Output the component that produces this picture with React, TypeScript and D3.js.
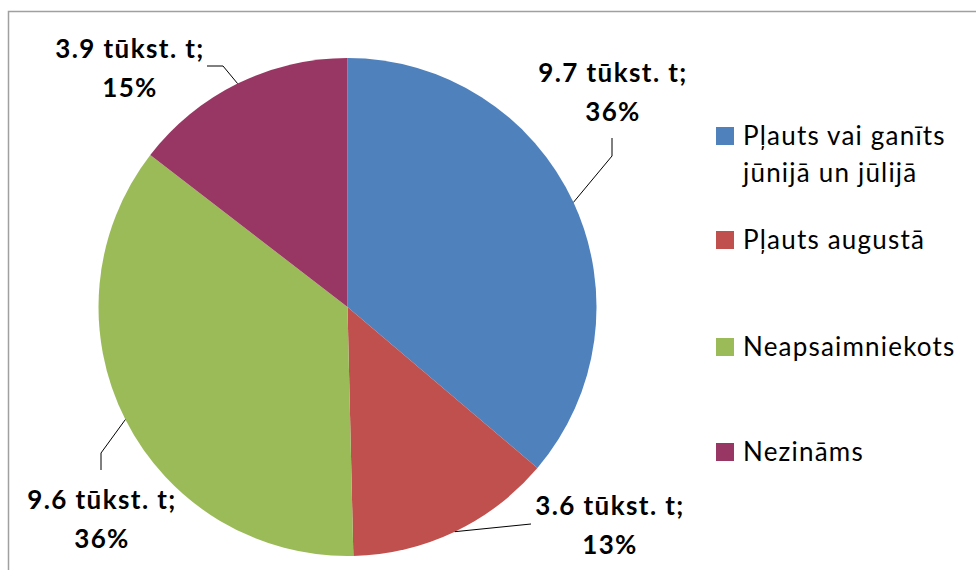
import React from "react";
import * as d3 from "d3";

const categories = ["Pļauts vai ganīts jūnijā un jūlijā", "Pļauts augustā", "Neapsaimniekots", "Nezināms"];
const legendLines = [["Pļauts vai ganīts", "jūnijā un jūlijā"], ["Pļauts augustā"], ["Neapsaimniekots"], ["Nezināms"]];
const values = [9.7, 3.6, 9.6, 3.9];
const valueLabels = ["9.7 tūkst. t;", "3.6 tūkst. t;", "9.6 tūkst. t;", "3.9 tūkst. t;"];
const percentLabels = ["36%", "13%", "36%", "15%"];
const colors = ["#4F81BD", "#C0504D", "#9BBB59", "#993764"];

// layout: label center x, first baseline y, and leader elbow/end points
const labelLayout = [
  { x: 613, y: 82, pts: [[612, 156], [612, 138]] },
  { x: 610, y: 515, pts: [[531, 524]] },
  { x: 102, y: 509, pts: [[101, 453], [101, 470]] },
  { x: 130, y: 58, pts: [[223, 66], [207, 66]] },
];
const legendY = [145, 249, 356, 461];

export default function App() {
  const W = 976, H = 570;
  const cx = 347.5, cy = 307, r = 249;
  const pie = d3.pie<number>().sort(null).value((d) => d)(values);
  const arc = d3.arc<d3.PieArcDatum<number>>().innerRadius(0).outerRadius(r);
  const font = "Lato, 'Open Sans', sans-serif";
  return (
    <svg width={W} height={H} style={{ position: "absolute", left: 0, top: 0 }} fontFamily={font}>
      <rect x={0} y={0} width={W} height={H} fill="#fff" />
      <rect x={8.5} y={11.5} width={W + 20} height={H + 20} fill="none" stroke="#A0A0A0" strokeWidth={1.5} />
      <g transform={`translate(${cx},${cy})`}>
        {pie.map((p, i) => (
          <path key={i} d={arc(p) || ""} fill={colors[i]} />
        ))}
      </g>
      {pie.map((p, i) => {
        const mid = (p.startAngle + p.endAngle) / 2;
        const sx = cx + r * Math.sin(mid);
        const sy = cy - r * Math.cos(mid);
        const L = labelLayout[i];
        const d = d3.line()([[sx, sy], ...(L.pts as [number, number][])]) || "";
        return (
          <g key={i}>
            <path d={d} fill="none" stroke="#000" strokeWidth={1} />
            <text x={L.x} y={L.y} textAnchor="middle" fontWeight="bold" fontSize={26} letterSpacing={1.4} fill="#000">
              {valueLabels[i]}
            </text>
            <text x={L.x} y={L.y + 39} textAnchor="middle" fontWeight="bold" fontSize={26} letterSpacing={1.4} fill="#000">
              {percentLabels[i]}
            </text>
          </g>
        );
      })}
      {categories.map((c, i) => (
        <g key={c}>
          <rect x={716} y={legendY[i] - 18} width={18} height={18} fill={colors[i]} />
          {legendLines[i].map((ln, j) => (
            <text key={j} x={743} y={legendY[i] + j * 37} fontSize={26} letterSpacing={1.2} fill="#000">
              {ln}
            </text>
          ))}
        </g>
      ))}
    </svg>
  );
}
